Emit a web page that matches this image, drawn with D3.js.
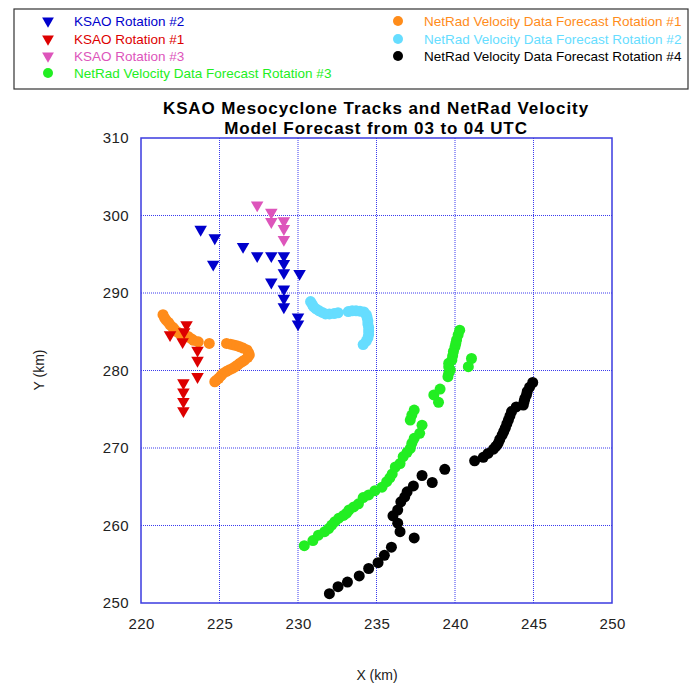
<!DOCTYPE html>
<head>
  <script src="https://d3js.org/d3.v7.min.js"></script>
  <style>
    body { margin: 0; background: #fff; }
    text { font-family: Arial, "Liberation Sans", sans-serif; }
  </style>
</head>
<body>
  <svg width="694" height="683"></svg>
  <script>
    // KSAO mesocyclone positions (km)
    const ksao2 = [
      [223.8, 298.2], [224.7, 297.1], [224.6, 293.7], [226.5, 296.0], [227.4, 294.8],
      [228.3, 294.8], [229.1, 294.8], [229.1, 293.8], [229.1, 292.6], [230.1, 292.5],
      [228.3, 291.4], [229.1, 290.5], [229.1, 289.3], [229.1, 288.2], [230.0, 286.9],
      [230.0, 286.0]
    ];
    const ksao1 = [
      [222.9, 285.9], [222.75, 285.0], [221.85, 284.6], [222.65, 283.7], [223.6, 282.6],
      [223.6, 281.3], [223.6, 279.2], [222.7, 278.4], [222.7, 277.2], [222.7, 276.0],
      [222.7, 274.8]
    ];
    const ksao3 = [
      [227.4, 301.35], [228.3, 300.4], [228.3, 299.2], [229.1, 299.3], [229.1, 298.3],
      [229.1, 296.9]
    ];

    // NetRad velocity forecasts (km)
    const netrad1 = [
      [221.4, 287.2], [221.5, 286.8], [221.6, 286.5], [221.75, 286.2], [221.85, 285.9],
      [222.0, 285.6], [222.1, 285.4], [222.3, 285.0], [222.45, 284.8], [222.6, 284.6],
      [222.8, 284.45], [223.0, 284.4], [223.2, 284.1], [223.35, 283.9], [223.65, 283.7],
      [224.35, 283.5],
      [225.45, 283.5], [225.7, 283.4], [225.9, 283.3], [226.1, 283.2], [226.3, 283.05],
      [226.5, 282.9], [226.75, 282.65], [226.85, 282.3], [226.9, 282.0], [226.8, 281.7],
      [226.6, 281.35], [226.45, 281.15], [226.3, 280.95], [226.15, 280.7], [226.0, 280.5],
      [225.85, 280.3], [225.65, 280.1], [225.45, 279.9], [225.25, 279.65], [225.1, 279.35],
      [224.95, 279.0], [224.8, 278.75], [224.7, 278.55]
    ];
    const netrad2 = [
      [230.8, 288.9], [230.9, 288.55], [231.0, 288.2], [231.15, 287.95], [231.35, 287.7],
      [231.55, 287.5], [231.75, 287.3], [232.0, 287.3], [232.3, 287.35], [232.55, 287.45],
      [233.2, 287.6], [233.45, 287.7], [233.7, 287.7], [233.95, 287.65], [234.2, 287.55],
      [234.35, 287.2], [234.4, 286.85], [234.45, 286.4], [234.45, 286.0], [234.5, 285.55],
      [234.5, 285.1], [234.5, 284.65], [234.45, 284.2], [234.35, 283.8], [234.15, 283.35]
    ];
    const netrad3 = [
      [230.4, 257.4], [230.95, 258.05], [231.3, 258.75], [231.7, 259.2], [231.95, 259.6],
      [232.15, 260.05], [232.35, 260.5], [232.6, 260.95], [232.9, 261.3], [233.1, 261.6],
      [233.25, 262.0], [233.55, 262.4], [233.85, 262.8], [234.15, 263.6], [234.5, 263.95],
      [234.9, 264.5], [235.35, 264.95], [235.65, 265.65], [235.85, 266.15], [236.0, 266.65],
      [236.2, 267.55], [236.5, 268.0], [236.7, 268.9], [236.95, 269.45], [237.15, 269.95],
      [237.25, 270.6], [237.4, 271.25], [237.75, 271.9], [237.9, 272.95],
      [237.15, 273.6], [237.25, 274.25], [237.4, 274.9],
      [238.95, 275.9], [238.65, 276.85], [239.05, 277.6],
      [239.55, 279.2], [239.6, 279.65], [239.7, 280.05], [239.6, 280.5], [239.6, 280.95],
      [239.8, 281.35], [239.85, 281.9], [239.9, 282.45], [240.0, 283.05], [240.05, 283.5],
      [240.1, 283.95], [240.2, 284.6], [240.3, 285.2],
      [240.85, 280.5], [241.05, 281.55]
    ];
    const netrad4 = [
      [232.0, 251.2], [232.55, 252.1], [233.15, 252.7], [233.9, 253.5], [234.5, 254.45],
      [235.1, 255.2], [235.5, 256.15], [235.95, 257.2], [237.4, 258.4], [236.5, 259.2],
      [236.35, 260.3], [236.05, 261.25], [236.35, 262.0], [236.55, 263.05], [236.8, 263.7],
      [236.95, 264.35], [237.35, 265.1], [237.9, 266.45], [238.55, 265.55], [239.35, 267.25],
      [241.25, 268.35], [241.8, 268.8], [242.1, 269.3], [242.45, 269.85], [242.6, 270.2],
      [242.75, 270.6], [242.85, 271.1], [243.0, 271.65], [243.1, 272.1], [243.2, 272.55],
      [243.3, 273.1], [243.4, 273.6], [243.5, 274.15], [243.6, 274.7], [243.9, 275.3],
      [244.35, 275.55], [244.4, 276.0], [244.45, 276.4], [244.55, 276.85], [244.6, 277.3],
      [244.75, 277.85], [244.95, 278.45]
    ];

    const xTicks = [220, 225, 230, 235, 240, 245, 250];
    const yTicks = [250, 260, 270, 280, 290, 300, 310];

    const series = [
      { name: "KSAO Rotation #2", data: ksao2, color: "#0000cc", shape: "tri", col: 0, row: 0 },
      { name: "KSAO Rotation #1", data: ksao1, color: "#dd0000", shape: "tri", col: 0, row: 1 },
      { name: "KSAO Rotation #3", data: ksao3, color: "#dd55bb", shape: "tri", col: 0, row: 2 },
      { name: "NetRad Velocity Data Forecast Rotation #3", data: netrad3, color: "#22ee22", shape: "dot", col: 0, row: 3 },
      { name: "NetRad Velocity Data Forecast Rotation #1", data: netrad1, color: "#ff8c1a", shape: "dot", col: 1, row: 0 },
      { name: "NetRad Velocity Data Forecast Rotation #2", data: netrad2, color: "#66ddff", shape: "dot", col: 1, row: 1 },
      { name: "NetRad Velocity Data Forecast Rotation #4", data: netrad4, color: "#000000", shape: "dot", col: 1, row: 2 }
    ];

    const svg = d3.select("svg");
    const pLeft = 141, pRight = 612, pTop = 138, pBottom = 603;

    const x = d3.scaleLinear().domain([220, 250]).range([pLeft, pRight]);
    const y = d3.scaleLinear().domain([250, 310]).range([pBottom, pTop]);

    // legend
    const legend = svg.append("g");
    legend.append("rect")
      .attr("x", 14).attr("y", 9).attr("width", 674).attr("height", 80)
      .attr("fill", "#fff").attr("stroke", "#333").attr("stroke-width", 1.2);
    const colX = [48, 398], rowY = [21, 39, 56, 73];
    const tri = d3.symbol(d3.symbolTriangle, 60);
    series.forEach(s => {
      const mx = colX[s.col], my = rowY[s.row];
      if (s.shape === "tri") {
        legend.append("path").attr("d", tri)
          .attr("transform", `translate(${mx},${my}) rotate(180)`)
          .attr("fill", s.color);
      } else {
        legend.append("circle").attr("cx", mx).attr("cy", my).attr("r", 5).attr("fill", s.color);
      }
      legend.append("text").attr("x", mx + 26).attr("y", my + 5)
        .attr("font-size", 13.5)
        .attr("fill", s.color).text(s.name);
    });

    // title
    svg.append("text").attr("x", 376).attr("y", 114).attr("text-anchor", "middle")
      .attr("font-size", 17).attr("font-weight", "bold").attr("letter-spacing", 0.9)
      .text("KSAO Mesocyclone Tracks and NetRad Velocity");
    svg.append("text").attr("x", 376).attr("y", 134).attr("text-anchor", "middle")
      .attr("font-size", 17).attr("font-weight", "bold").attr("letter-spacing", 0.9)
      .text("Model Forecast from 03 to 04 UTC");

    // grid
    const grid = svg.append("g").attr("stroke", "#3a3aee").attr("stroke-width", 1)
      .attr("stroke-dasharray", "1,1");
    grid.selectAll(".gx").data(xTicks.slice(1, -1)).enter().append("line")
      .attr("x1", d => x(d)).attr("x2", d => x(d)).attr("y1", pTop).attr("y2", pBottom);
    grid.selectAll(".gy").data(yTicks.slice(1, -1)).enter().append("line")
      .attr("y1", d => y(d)).attr("y2", d => y(d)).attr("x1", pLeft).attr("x2", pRight);

    // frame
    svg.append("rect").attr("x", pLeft).attr("y", pTop)
      .attr("width", pRight - pLeft).attr("height", pBottom - pTop)
      .attr("fill", "none").attr("stroke", "#3b3be0").attr("stroke-width", 1.5);

    // axes
    const xAxis = svg.append("g").attr("transform", `translate(0,${pBottom})`)
      .call(d3.axisBottom(x).tickValues(xTicks).tickSize(0).tickPadding(15));
    const yAxis = svg.append("g").attr("transform", `translate(${pLeft},0)`)
      .call(d3.axisLeft(y).tickValues(yTicks).tickSize(0).tickPadding(12));
    [xAxis, yAxis].forEach(a => {
      a.select(".domain").remove();
      a.selectAll("text").attr("font-size", 15).attr("letter-spacing", 0.4).attr("fill", "#222")
        .attr("font-family", "Arial, 'Liberation Sans', sans-serif");
    });

    svg.append("text").attr("x", 377).attr("y", 680).attr("text-anchor", "middle")
      .attr("font-size", 14).attr("fill", "#222").text("X (km)");
    svg.append("text").attr("transform", "translate(44,370) rotate(-90)")
      .attr("text-anchor", "middle").attr("font-size", 14).attr("fill", "#222").text("Y (km)");

    // points: forecasts first, KSAO triangles on top
    const plot = svg.append("g");
    const dots = series.filter(s => s.shape === "dot");
    const tris = series.filter(s => s.shape === "tri");
    dots.forEach(s => {
      plot.append("g").selectAll("circle").data(s.data).enter().append("circle")
        .attr("cx", d => x(d[0])).attr("cy", d => y(d[1])).attr("r", 5.5)
        .attr("fill", s.color);
    });
    const triBig = d3.symbol(d3.symbolTriangle, 68);
    tris.forEach(s => {
      plot.append("g").selectAll("path").data(s.data).enter().append("path")
        .attr("d", triBig)
        .attr("transform", d => `translate(${x(d[0])},${y(d[1])}) rotate(180)`)
        .attr("fill", s.color);
    });
  </script>
</body>
